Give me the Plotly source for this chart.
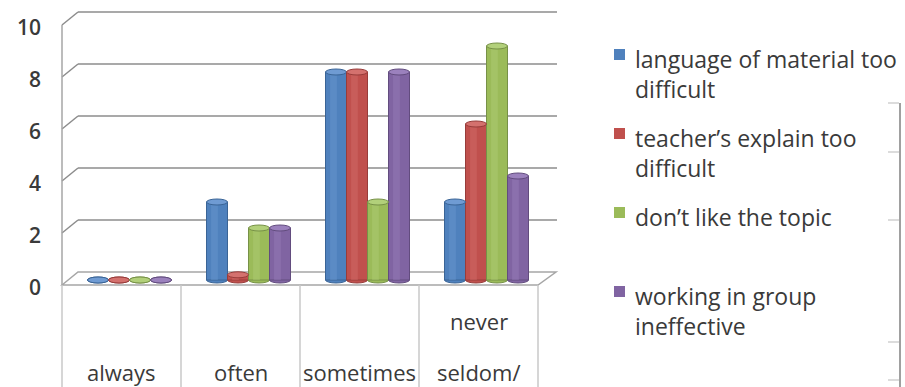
import plotly.graph_objects as go

# ---------------- data ----------------
categories = ["always", "often", "sometimes", "never<br>seldom/"]
series_names = [
    "language of material too<br>difficult",
    "teacher’s explain too<br>difficult",
    "don’t like the topic",
    "working in group<br>ineffective",
]
language_difficult = [0, 3, 8, 3]
teacher_explain = [0, 0.2, 8, 6]
dislike_topic = [0, 2, 3, 9]
group_ineffective = [0, 2, 8, 4]
y_ticks = [0, 2, 4, 6, 8, 10]

series_values = [language_difficult, teacher_explain, dislike_topic, group_ineffective]
colors = ["#4F81BD", "#C0504D", "#9BBB59", "#8064A2"]
dark = ["#3A6496", "#983C3A", "#779147", "#624C7E"]
light = ["#6F9BD3", "#D4716E", "#B2D07A", "#9B81BD"]

# ---------------- layout constants ----------------
W, H = 905, 387
ML = 60                   # left margin (tick labels live outside)
X0_PX = 70                # pixel where category -0.5 sits
CAT_PX = 119              # pixels per category
Y0_PX = 280               # pixel where value 0 sits
PPU = 26                  # pixels per value unit
YMAX = 10
PW = W - ML
x_range = [-0.5 - (X0_PX - ML) / CAT_PX, -0.5 + (W - X0_PX) / CAT_PX]
y_range = [-(H - Y0_PX) / PPU, Y0_PX / PPU]

BAR_W = 21 / CAT_PX
FRONT = 5                 # px the front edge sits below the bar plane
BACK = 8                  # px the back wall sits above the bar plane
DX = 8                    # horizontal depth shift
GRID = "#8C8C8C"
TXT = "#3A3A3A"
FONT = "Open Sans"


def px(p):
    """figure pixel x -> paper fraction"""
    return (p - ML) / PW


def py(p):
    """figure pixel y -> paper fraction"""
    return 1 - p / H


fig = go.Figure()
shapes = []
annotations = []
nser = len(series_values)
ncat = len(categories)

for s, vals in enumerate(series_values):
    xs = [i + (s - (nser - 1) / 2) * BAR_W for i in range(ncat)]
    fig.add_trace(go.Bar(
        x=xs, y=vals, width=BAR_W,
        marker=dict(color=colors[s], line=dict(color=dark[s], width=1)),
        name=series_names[s].replace("<br>", " "), showlegend=False, hoverinfo="skip"))
    fig.add_trace(go.Bar(
        x=[x - BAR_W * 0.12 for x in xs], y=vals, width=BAR_W * 0.32,
        marker=dict(color=light[s], line=dict(width=0)), opacity=0.4,
        showlegend=False, hoverinfo="skip"))
    for x, v in zip(xs, vals):
        shapes.append(dict(type="circle", layer="between", xref="x", yref="y",
                           x0=x - BAR_W / 2, x1=x + BAR_W / 2,
                           ysizemode="pixel", yanchor=0, y0=-3, y1=3,
                           fillcolor=colors[s], line=dict(color=dark[s], width=1)))
        shapes.append(dict(type="circle", layer="above", xref="x", yref="y",
                           x0=x - BAR_W / 2, x1=x + BAR_W / 2,
                           ysizemode="pixel", yanchor=v, y0=-3, y1=3,
                           fillcolor=light[s], line=dict(color=dark[s], width=1)))

# floor
shapes.append(dict(type="path", layer="below", xref="x", yref="y",
                   xsizemode="pixel", xanchor=-0.5, ysizemode="pixel", yanchor=0,
                   path=(f"M {-DX},{-FRONT} L {ncat * CAT_PX - DX},{-FRONT} "
                         f"L {ncat * CAT_PX + DX + 2},{BACK} L {DX},{BACK} Z"),
                   fillcolor="white", line=dict(color="#A6A6A6", width=1.5)))

# back wall gridlines + left wall diagonals
for t in y_ticks:
    if t > 0:
        shapes.append(dict(type="line", layer="below", xref="x", yref="y",
                           xsizemode="pixel", xanchor=-0.5, x0=DX, x1=ncat * CAT_PX + DX + 3,
                           ysizemode="pixel", yanchor=t, y0=BACK, y1=BACK,
                           line=dict(color=GRID, width=1.5)))
        shapes.append(dict(type="line", layer="below", xref="x", yref="y",
                           xsizemode="pixel", xanchor=-0.5, x0=-DX, x1=DX,
                           ysizemode="pixel", yanchor=t, y0=-FRONT, y1=BACK,
                           line=dict(color=GRID, width=1.5)))
# left wall front edge
shapes.append(dict(type="line", layer="below", xref="x", yref="y",
                   xsizemode="pixel", xanchor=-0.5, x0=-DX, x1=-DX,
                   y0=-FRONT / PPU, y1=YMAX - FRONT / PPU,
                   line=dict(color="#A6A6A6", width=1.5)))

# category table separators
for i in range(ncat + 1):
    shapes.append(dict(type="line", layer="below", xref="x", yref="y",
                       xsizemode="pixel", xanchor=i - 0.5, x0=-DX, x1=-DX,
                       ysizemode="pixel", yanchor=0, y0=-FRONT, y1=-120,
                       line=dict(color="#C8C8C8", width=1.5)))

# category labels (lines stacked upward from the bottom row)
for i, lab in enumerate(categories):
    lines = lab.split("<br>")
    for k, line in enumerate(reversed(lines)):
        annotations.append(dict(text=line, xref="x", yref="y", x=i, y=0,
                                xshift=-DX, yshift=-92 + 51 * k, showarrow=False,
                                xanchor="center", yanchor="middle",
                                font=dict(family=FONT, size=22, color=TXT)))

# legend (manual, evenly spaced like the original)
LEG_TOP = 57
LEG_STEP = 79
FS_LEG = 23
for s, name in enumerate(series_names):
    cy = LEG_TOP + s * LEG_STEP
    shapes.append(dict(type="rect", xref="paper", yref="paper",
                       x0=px(614), x1=px(625), y0=py(cy - 8), y1=py(cy + 3),
                       fillcolor=colors[s], line=dict(width=0)))
    annotations.append(dict(text=name, xref="paper", yref="paper",
                            x=px(633), y=py(cy - FS_LEG * 0.65 - 1),
                            xanchor="left", yanchor="top", align="left", showarrow=False,
                            font=dict(family=FONT, size=FS_LEG, color=TXT)))

# partial frame of a neighbouring chart at the right edge
shapes.append(dict(type="line", xref="paper", yref="paper",
                   x0=px(900), x1=px(900), y0=py(103), y1=py(H),
                   line=dict(color="#A0A0A0", width=2)))
for ty in [103, 152, 220, 342, 380]:
    shapes.append(dict(type="line", xref="paper", yref="paper",
                       x0=px(888), x1=px(899), y0=py(ty), y1=py(ty),
                       line=dict(color="#D0D0D0", width=1.5)))

fig.update_layout(
    width=W, height=H, barmode="overlay",
    margin=dict(l=ML, r=0, t=0, b=0, pad=0),
    paper_bgcolor="white", plot_bgcolor="rgba(0,0,0,0)",
    showlegend=False,
    shapes=shapes, annotations=annotations,
    xaxis=dict(range=x_range, visible=False, fixedrange=True),
    yaxis=dict(range=y_range, tickvals=y_ticks, showgrid=False, zeroline=False,
               showline=False, ticks="", ticklabelstandoff=18, ticklabelshift=8,
               tickfont=dict(family=FONT, size=21, color=TXT, weight=600), fixedrange=True),
)

fig.write_html("out.html")
